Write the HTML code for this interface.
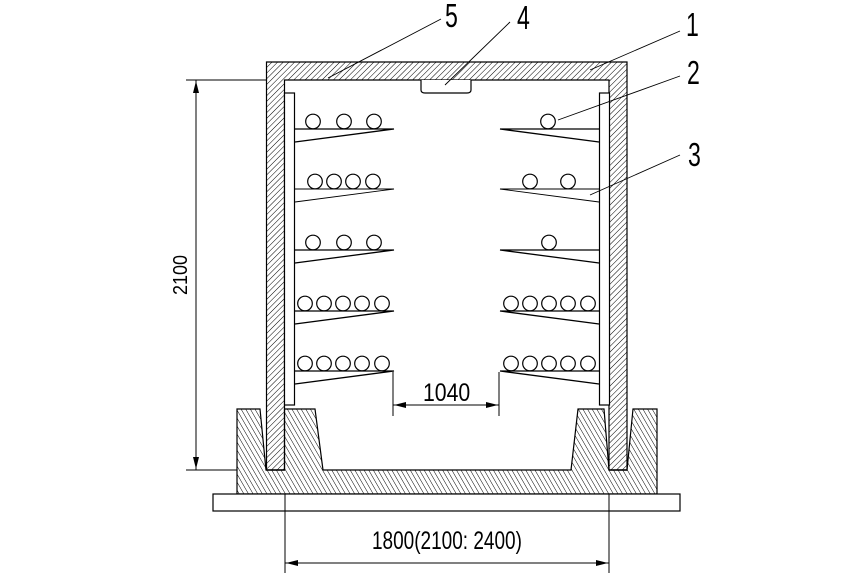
<!DOCTYPE html>
<html><head><meta charset="utf-8"><style>
html,body{margin:0;padding:0;background:#fff;}
svg{display:block}
text{font-family:"Liberation Sans",sans-serif;fill:#000}
</style></head><body>
<svg width="866" height="577" viewBox="0 0 866 577" xmlns="http://www.w3.org/2000/svg">
<defs>
<pattern id="h1" patternUnits="userSpaceOnUse" width="4" height="4" patternTransform="rotate(45)">
<line x1="0" y1="0" x2="0" y2="4" stroke="#000" stroke-width="1"/></pattern>
<pattern id="h2" patternUnits="userSpaceOnUse" width="4" height="4" patternTransform="rotate(-30)">
<line x1="0" y1="0" x2="0" y2="4" stroke="#000" stroke-width="1"/></pattern>
</defs>
<g stroke="#000" stroke-width="1.2" fill="none">
<path d="M266.5,62 H627 V470 H609 V80 H284.5 V470 H266.5 Z" fill="url(#h1)"/>
<rect x="284.5" y="93" width="10" height="312" fill="#fff"/>
<rect x="599.5" y="93" width="10" height="312" fill="#fff"/>
<path d="M421,80 V90 Q421,93 425,93 H467 Q471,93 471,90 V80" fill="#fff"/>
<path d="M237,409 H260 L266,470 H284.5 V409 H288 H315 L323,470 H571 L578,409 H604 L609,470 H627 L633,409 H657 V494 H237 Z" fill="url(#h2)"/>
<path d="M266,470 H284.5 M609,470 H627" />
<rect x="213" y="494" width="467" height="17" fill="#fff"/>
</g>
<g stroke="#000" stroke-width="1.3" fill="none">
<path d="M295,129 H394 L295,142 M599,129 H500 L599,142"/>
<path d="M295,189 H394 L295,202 M599,189 H500 L599,202" stroke-width="0.9"/>
<path d="M295,250 H394 L295,263 M599,250 H500 L599,263"/>
<path d="M295,311 H394 L295,324 M599,311 H500 L599,324"/>
<path d="M295,371 H394 L295,384 M599,371 H500 L599,384"/>
<g stroke-width="1.2">
<circle cx="313" cy="121.5" r="7.3"/><circle cx="344" cy="121.5" r="7.3"/><circle cx="374" cy="121.5" r="7.3"/>
<circle cx="548" cy="121.5" r="7.3"/>
<circle cx="315" cy="181.5" r="7.3"/><circle cx="334" cy="181.5" r="7.3"/><circle cx="353" cy="181.5" r="7.3"/><circle cx="373" cy="181.5" r="7.3"/>
<circle cx="530" cy="181.5" r="7.3"/><circle cx="568" cy="181.5" r="7.3"/>
<circle cx="313" cy="242.5" r="7.3"/><circle cx="344" cy="242.5" r="7.3"/><circle cx="374" cy="242.5" r="7.3"/>
<circle cx="549" cy="242.5" r="7.3"/>
<circle cx="305" cy="303.5" r="7.3"/><circle cx="324" cy="303.5" r="7.3"/><circle cx="343" cy="303.5" r="7.3"/><circle cx="362" cy="303.5" r="7.3"/><circle cx="382" cy="303.5" r="7.3"/>
<circle cx="511" cy="303.5" r="7.3"/><circle cx="530" cy="303.5" r="7.3"/><circle cx="549" cy="303.5" r="7.3"/><circle cx="568" cy="303.5" r="7.3"/><circle cx="588" cy="303.5" r="7.3"/>
<circle cx="305" cy="363.5" r="7.3"/><circle cx="324" cy="363.5" r="7.3"/><circle cx="343" cy="363.5" r="7.3"/><circle cx="362" cy="363.5" r="7.3"/><circle cx="382" cy="363.5" r="7.3"/>
<circle cx="511" cy="363.5" r="7.3"/><circle cx="530" cy="363.5" r="7.3"/><circle cx="549" cy="363.5" r="7.3"/><circle cx="568" cy="363.5" r="7.3"/><circle cx="588" cy="363.5" r="7.3"/>
</g>
</g>
<g stroke="#000" stroke-width="1" fill="none">
<path d="M186,80 H266 M186,470 H237 M196,80 V470"/>
<path d="M285,494 V573 M609,494 V573 M285,563 H609"/>
<path d="M393,372 V416 M499,372 V416 M393,405 H499"/>
<path d="M441,19 L328,78 M510,22 L445,85 M680,31 L590,70 M680,76 L558,120 M680,155 L590,195" stroke-width="0.9"/>
</g>
<g fill="#000">
<path d="M196,81 L193,93 H199 Z"/><path d="M196,469 L193,457 H199 Z"/>
<path d="M286,563 L298,560 V566 Z"/><path d="M608,563 L596,560 V566 Z"/>
<path d="M394,405 L406,402 V408 Z"/><path d="M498,405 L486,402 V408 Z"/>
</g>
<g font-size="25">
<text x="0" y="0" font-size="20" transform="translate(187,295) rotate(-90) scale(0.9,1)">2100</text>
<text x="0" y="0" transform="translate(423,401) scale(0.85,1)">1040</text>
<text x="0" y="0" transform="translate(372,549) scale(0.76,1)" xml:space="preserve">1800(2100: 2400)</text>
<text x="0" y="0" transform="translate(445,27) scale(0.7,1)" font-size="33">5</text>
<text x="0" y="0" transform="translate(517,29) scale(0.7,1)" font-size="33">4</text>
<text x="0" y="0" transform="translate(686,36) scale(0.7,1)" font-size="33">1</text>
<text x="0" y="0" transform="translate(687,84) scale(0.7,1)" font-size="33">2</text>
<text x="0" y="0" transform="translate(688,166) scale(0.7,1)" font-size="33">3</text>
</g>
</svg>
</body></html>
